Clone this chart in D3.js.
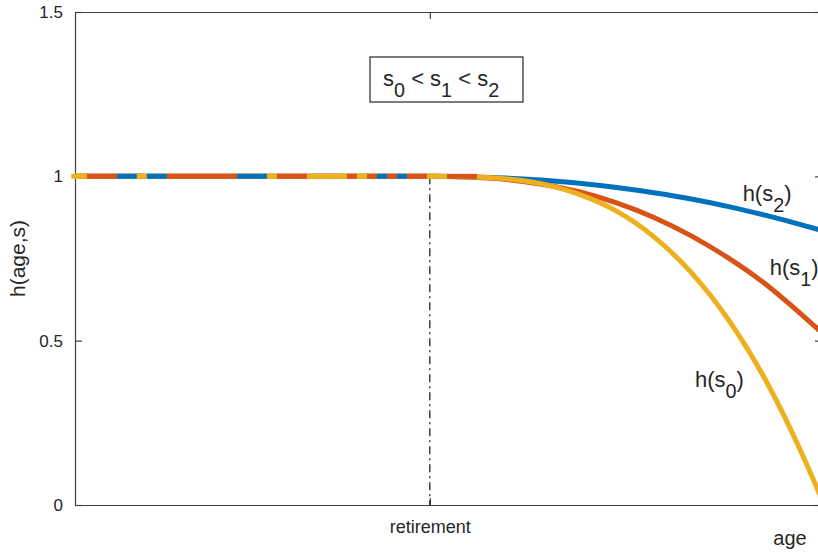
<!DOCTYPE html>
<html>
<head>
<meta charset="UTF-8">
<title>h(age,s)</title>
<script src="https://cdn.jsdelivr.net/npm/d3@7"></script>
<style>
  body { margin: 0; background: #fff; }
  text { font-family: "Liberation Sans", Arial, sans-serif; fill: #262626; }
  .axis path, .axis line { stroke: #404040; stroke-width: 1.2; }
  .axis text { font-size: 17px; fill: #262626; }
</style>
</head>
<body>
<svg width="818" height="552"></svg>
<script>
// data
var ages = [20, 58, 62, 66, 70, 74, 78, 82, 86, 90, 94, 98, 100];
var h_s0 = [1, 1, 0.999, 0.993, 0.977, 0.945, 0.894, 0.816, 0.707, 0.563, 0.378, 0.147, 0.016];
var h_s1 = [1, 1, 0.998, 0.991, 0.976, 0.953, 0.919, 0.875, 0.819, 0.751, 0.671, 0.575, 0.524];
var h_s2 = [1, 1, 0.999, 0.995, 0.989, 0.979, 0.966, 0.950, 0.931, 0.908, 0.881, 0.851, 0.835];
var retirementAge = 58;
var yTicks = [0, 0.5, 1, 1.5];
var yTickLabels = ["0", "0.5", "1", "1.5"];
var labels = ["h(s", "h(s", "h(s"];
var subs = ["0", "1", "2"];
// which series is drawn on top in each piece of the flat stretch (Y = s0, O = s1, B = s2)
var flatTop = "YOOOBBYBBOOOOOOOBBBYOOOYYYYOYOBOBOOYYOOO";
var flatRange = [20.2, 63.05];

var colors = ["#EDB120", "#D95319", "#0072BD"];
var series = [h_s0, h_s1, h_s2];

var svg = d3.select("svg"),
    margin = {top: 12, left: 75},
    plotW = 747, plotH = 493;

var x = d3.scaleLinear().domain([20, 100]).range([margin.left, margin.left + plotW]);
var y = d3.scaleLinear().domain([0, 1.5]).range([margin.top + plotH, margin.top]);

svg.append("defs").append("clipPath").attr("id", "clip")
  .append("rect")
  .attr("x", margin.left - 4).attr("y", margin.top - 3)
  .attr("width", plotW + 4).attr("height", plotH + 6);

// axes
svg.append("g").attr("class", "axis")
  .attr("transform", "translate(" + margin.left + ",0)")
  .call(d3.axisLeft(y).tickValues(yTicks).tickFormat(function(d, i) { return yTickLabels[i]; })
    .tickSizeInner(-7).tickSizeOuter(0).tickPadding(12));
svg.append("g").attr("class", "axis")
  .attr("transform", "translate(" + (margin.left + plotW) + ",0)")
  .call(d3.axisRight(y).tickValues(yTicks).tickFormat("").tickSizeInner(-7).tickSizeOuter(0));
svg.append("g").attr("class", "axis")
  .attr("transform", "translate(0," + (margin.top + plotH) + ")")
  .call(d3.axisBottom(x).tickValues([retirementAge]).tickFormat(function() { return "retirement"; })
    .tickSizeInner(-7).tickSizeOuter(0).tickPadding(15))
  .selectAll("text").style("font-size", "18px");
svg.append("g").attr("class", "axis")
  .attr("transform", "translate(0," + margin.top + ")")
  .call(d3.axisTop(x).tickValues([retirementAge]).tickFormat("").tickSizeInner(-7).tickSizeOuter(0));

// retirement line (from the flat level down to the axis)
svg.append("line")
  .attr("x1", x(retirementAge)).attr("x2", x(retirementAge))
  .attr("y1", y(1)).attr("y2", y(0))
  .attr("stroke", "#111").attr("stroke-width", 1.2)
  .attr("stroke-dasharray", "8,4,2,4");

var plot = svg.append("g").attr("clip-path", "url(#clip)");

var line = d3.line()
  .x(function(d) { return x(d[0]); })
  .y(function(d) { return y(d[1]); })
  .curve(d3.curveMonotoneX);

[2, 1, 0].forEach(function(k) {
  plot.append("path")
    .datum(ages.map(function(a, i) { return [a, series[k][i]]; }))
    .attr("fill", "none")
    .attr("stroke", colors[k])
    .attr("stroke-width", 5)
    .attr("d", line);
});

// flat part: overlapping lines, the visible colour changes piece by piece
var seg = d3.scaleLinear().domain([0, flatTop.length]).range(flatRange);
var key = {Y: 0, O: 1, B: 2};
plot.selectAll(".flat")
  .data(flatTop.split(""))
  .enter().append("line")
  .attr("class", "flat")
  .attr("x1", function(d, i) { return x(i === 0 ? 19.6 : seg(i)); })
  .attr("x2", function(d, i) { return x(seg(i + 1)); })
  .attr("y1", y(1)).attr("y2", y(1))
  .attr("stroke", function(d) { return colors[key[d]]; })
  .attr("stroke-width", 5);

// labels with subscripts: a subscript tspan goes down, the next one comes back up
function subText(g, parts, size) {
  var t = g.append("text").style("font-size", size + "px");
  var down = 0;
  parts.forEach(function(p) {
    var ts = t.append("tspan").text(p.t);
    if (p.sub) {
      ts.attr("dy", (0.5 * size) + "px").style("font-size", (size * 0.9) + "px");
      down = 0.5 * size;
    } else if (down) {
      ts.attr("dy", (-down) + "px");
      down = 0;
    }
  });
  return t;
}

var labelPos = [[86.4, 0.36], [94.4, 0.70], [91.5, 0.925]];
labelPos.forEach(function(p, k) {
  subText(svg, [{t: labels[k]}, {t: subs[k], sub: true}, {t: ")"}], 22)
    .attr("x", x(p[0])).attr("y", y(p[1]));
});

// annotation box
var box = svg.append("g");
box.append("rect")
  .attr("x", 370).attr("y", 57).attr("width", 153).attr("height", 45)
  .attr("fill", "#fff").attr("stroke", "#262626").attr("stroke-width", 1.2);
subText(box, [{t: "s"}, {t: "0", sub: true}, {t: " < s"}, {t: "1", sub: true}, {t: " < s"}, {t: "2", sub: true}], 22)
  .attr("x", 383).attr("y", 86);

// axis titles
svg.append("text")
  .attr("transform", "translate(25," + y(0.75) + ") rotate(-90)")
  .attr("text-anchor", "middle")
  .style("font-size", "21px")
  .text("h(age,s)");
svg.append("text")
  .attr("x", 790).attr("y", 545)
  .attr("text-anchor", "middle")
  .style("font-size", "20px")
  .text("age");
</script>
</body>
</html>
